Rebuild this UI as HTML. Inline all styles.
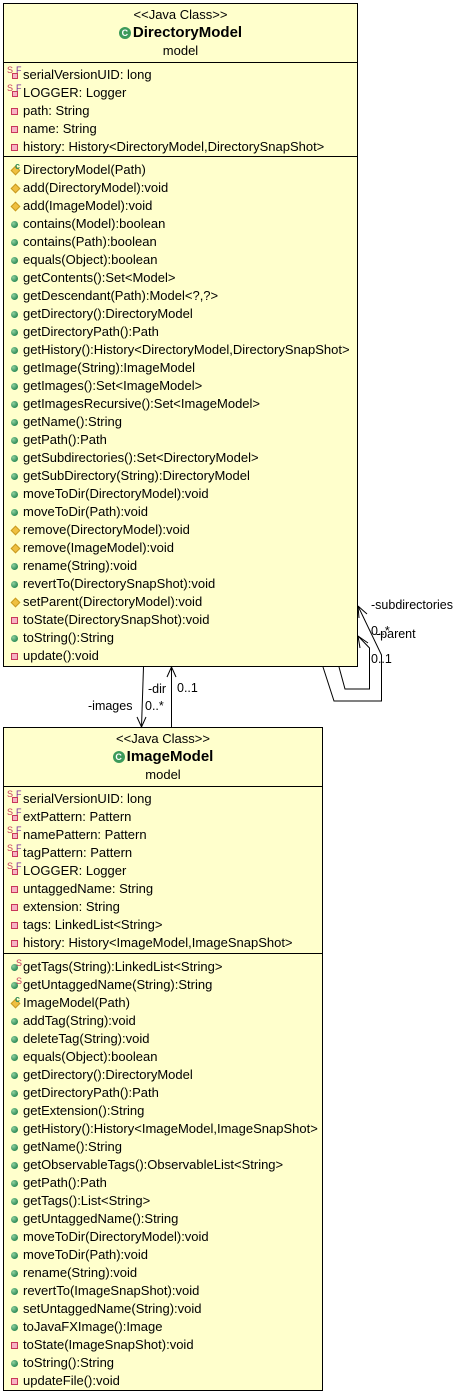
<!DOCTYPE html>
<html><head><meta charset="utf-8"><style>
body{margin:0;width:458px;height:1394px;background:#fff;position:relative;font-family:"Liberation Sans",Arial,sans-serif;font-size:13px;color:#000;overflow:hidden}
.box{position:absolute;background:#ffffcc;border:1px solid #000;box-sizing:border-box}
.sep{position:absolute;left:0;right:0;height:0;border-top:1px solid #000}
.c{position:absolute;left:0;right:0;text-align:center;line-height:18px}
.r{position:absolute;left:19px;line-height:18px;white-space:nowrap}
.r i{position:absolute;display:block}
.pub{left:-12px;top:6px;width:7px;height:7px;border-radius:50%;background:radial-gradient(circle at 35% 35%,#8fd19e,#2e8b57 70%)}
.priv{left:-12px;top:6px;width:5px;height:5px;border:1px solid #c8375a;background:#f7b3c4}
.prot{left:-11px;top:6px;width:5px;height:5px;transform:rotate(45deg);background:#f0c040;border:1px solid #c89a20}
.sq{left:-11px;top:7px;width:4px;height:4px;border:1px solid #c8375a;background:#f7b3c4}
.sup{position:absolute;font-style:normal;font-size:9px;line-height:9px}
.lbl{position:absolute;font-size:12.5px;line-height:14px;white-space:nowrap}
.t{font-weight:bold;font-size:15px}
.gc{display:inline-block;width:12px;height:12px;border-radius:50%;background:#3c9a5a;color:#fff;font-size:9px;line-height:12px;text-align:center;vertical-align:1px;margin-right:2px;font-weight:bold}
</style></head><body>

<div class="box" style="left:3px;top:3px;width:355px;height:664px">
<div class="c" style="top:2px">&lt;&lt;Java Class&gt;&gt;</div>
<div class="c t" style="top:20px"><span class="gc">C</span>DirectoryModel</div>
<div class="c" style="top:38px">model</div>
<div class="sep" style="top:58px"></div>
<div class="r" style="top:62px"><i class="sq"></i><i class="sup" style="left:-16px;top:0;color:#c8375a">S</i><i class="sup" style="left:-7px;top:0;color:#7a2a9a">F</i>serialVersionUID: long</div>
<div class="r" style="top:80px"><i class="sq"></i><i class="sup" style="left:-16px;top:0;color:#c8375a">S</i><i class="sup" style="left:-7px;top:0;color:#7a2a9a">F</i>LOGGER: Logger</div>
<div class="r" style="top:98px"><i class="priv"></i>path: String</div>
<div class="r" style="top:116px"><i class="priv"></i>name: String</div>
<div class="r" style="top:134px"><i class="priv"></i>history: History&lt;DirectoryModel,DirectorySnapShot&gt;</div>
<div class="sep" style="top:152px"></div>
<div class="r" style="top:157px"><i class="prot"></i><i class="sup" style="left:-8px;top:1px;color:#2e8b57;font-weight:bold">c</i>DirectoryModel(Path)</div>
<div class="r" style="top:175px"><i class="prot"></i>add(DirectoryModel):void</div>
<div class="r" style="top:193px"><i class="prot"></i>add(ImageModel):void</div>
<div class="r" style="top:211px"><i class="pub"></i>contains(Model):boolean</div>
<div class="r" style="top:229px"><i class="pub"></i>contains(Path):boolean</div>
<div class="r" style="top:247px"><i class="pub"></i>equals(Object):boolean</div>
<div class="r" style="top:265px"><i class="pub"></i>getContents():Set&lt;Model&gt;</div>
<div class="r" style="top:283px"><i class="pub"></i>getDescendant(Path):Model&lt;?,?&gt;</div>
<div class="r" style="top:301px"><i class="pub"></i>getDirectory():DirectoryModel</div>
<div class="r" style="top:319px"><i class="pub"></i>getDirectoryPath():Path</div>
<div class="r" style="top:337px"><i class="pub"></i>getHistory():History&lt;DirectoryModel,DirectorySnapShot&gt;</div>
<div class="r" style="top:355px"><i class="pub"></i>getImage(String):ImageModel</div>
<div class="r" style="top:373px"><i class="pub"></i>getImages():Set&lt;ImageModel&gt;</div>
<div class="r" style="top:391px"><i class="pub"></i>getImagesRecursive():Set&lt;ImageModel&gt;</div>
<div class="r" style="top:409px"><i class="pub"></i>getName():String</div>
<div class="r" style="top:427px"><i class="pub"></i>getPath():Path</div>
<div class="r" style="top:445px"><i class="pub"></i>getSubdirectories():Set&lt;DirectoryModel&gt;</div>
<div class="r" style="top:463px"><i class="pub"></i>getSubDirectory(String):DirectoryModel</div>
<div class="r" style="top:481px"><i class="pub"></i>moveToDir(DirectoryModel):void</div>
<div class="r" style="top:499px"><i class="pub"></i>moveToDir(Path):void</div>
<div class="r" style="top:517px"><i class="prot"></i>remove(DirectoryModel):void</div>
<div class="r" style="top:535px"><i class="prot"></i>remove(ImageModel):void</div>
<div class="r" style="top:553px"><i class="pub"></i>rename(String):void</div>
<div class="r" style="top:571px"><i class="pub"></i>revertTo(DirectorySnapShot):void</div>
<div class="r" style="top:589px"><i class="prot"></i>setParent(DirectoryModel):void</div>
<div class="r" style="top:607px"><i class="priv"></i>toState(DirectorySnapShot):void</div>
<div class="r" style="top:625px"><i class="pub"></i>toString():String</div>
<div class="r" style="top:643px"><i class="priv"></i>update():void</div>
</div>

<div class="box" style="left:3px;top:727px;width:320px;height:664px">
<div class="c" style="top:2px">&lt;&lt;Java Class&gt;&gt;</div>
<div class="c t" style="top:20px"><span class="gc">C</span>ImageModel</div>
<div class="c" style="top:38px">model</div>
<div class="sep" style="top:58px"></div>
<div class="r" style="top:62px"><i class="sq"></i><i class="sup" style="left:-16px;top:0;color:#c8375a">S</i><i class="sup" style="left:-7px;top:0;color:#7a2a9a">F</i>serialVersionUID: long</div>
<div class="r" style="top:80px"><i class="sq"></i><i class="sup" style="left:-16px;top:0;color:#c8375a">S</i><i class="sup" style="left:-7px;top:0;color:#7a2a9a">F</i>extPattern: Pattern</div>
<div class="r" style="top:98px"><i class="sq"></i><i class="sup" style="left:-16px;top:0;color:#c8375a">S</i><i class="sup" style="left:-7px;top:0;color:#7a2a9a">F</i>namePattern: Pattern</div>
<div class="r" style="top:116px"><i class="sq"></i><i class="sup" style="left:-16px;top:0;color:#c8375a">S</i><i class="sup" style="left:-7px;top:0;color:#7a2a9a">F</i>tagPattern: Pattern</div>
<div class="r" style="top:134px"><i class="sq"></i><i class="sup" style="left:-16px;top:0;color:#c8375a">S</i><i class="sup" style="left:-7px;top:0;color:#7a2a9a">F</i>LOGGER: Logger</div>
<div class="r" style="top:152px"><i class="priv"></i>untaggedName: String</div>
<div class="r" style="top:170px"><i class="priv"></i>extension: String</div>
<div class="r" style="top:188px"><i class="priv"></i>tags: LinkedList&lt;String&gt;</div>
<div class="r" style="top:206px"><i class="priv"></i>history: History&lt;ImageModel,ImageSnapShot&gt;</div>
<div class="sep" style="top:225px"></div>
<div class="r" style="top:230px"><i class="pub"></i><i class="sup" style="left:-7px;top:1px;color:#c8375a">S</i>getTags(String):LinkedList&lt;String&gt;</div>
<div class="r" style="top:248px"><i class="pub"></i><i class="sup" style="left:-7px;top:1px;color:#c8375a">S</i>getUntaggedName(String):String</div>
<div class="r" style="top:266px"><i class="prot"></i><i class="sup" style="left:-8px;top:1px;color:#2e8b57;font-weight:bold">c</i>ImageModel(Path)</div>
<div class="r" style="top:284px"><i class="pub"></i>addTag(String):void</div>
<div class="r" style="top:302px"><i class="pub"></i>deleteTag(String):void</div>
<div class="r" style="top:320px"><i class="pub"></i>equals(Object):boolean</div>
<div class="r" style="top:338px"><i class="pub"></i>getDirectory():DirectoryModel</div>
<div class="r" style="top:356px"><i class="pub"></i>getDirectoryPath():Path</div>
<div class="r" style="top:374px"><i class="pub"></i>getExtension():String</div>
<div class="r" style="top:392px"><i class="pub"></i>getHistory():History&lt;ImageModel,ImageSnapShot&gt;</div>
<div class="r" style="top:410px"><i class="pub"></i>getName():String</div>
<div class="r" style="top:428px"><i class="pub"></i>getObservableTags():ObservableList&lt;String&gt;</div>
<div class="r" style="top:446px"><i class="pub"></i>getPath():Path</div>
<div class="r" style="top:464px"><i class="pub"></i>getTags():List&lt;String&gt;</div>
<div class="r" style="top:482px"><i class="pub"></i>getUntaggedName():String</div>
<div class="r" style="top:500px"><i class="pub"></i>moveToDir(DirectoryModel):void</div>
<div class="r" style="top:518px"><i class="pub"></i>moveToDir(Path):void</div>
<div class="r" style="top:536px"><i class="pub"></i>rename(String):void</div>
<div class="r" style="top:554px"><i class="pub"></i>revertTo(ImageSnapShot):void</div>
<div class="r" style="top:572px"><i class="pub"></i>setUntaggedName(String):void</div>
<div class="r" style="top:590px"><i class="pub"></i>toJavaFXImage():Image</div>
<div class="r" style="top:608px"><i class="priv"></i>toState(ImageSnapShot):void</div>
<div class="r" style="top:626px"><i class="pub"></i>toString():String</div>
<div class="r" style="top:644px"><i class="priv"></i>updateFile():void</div>
</div>

<svg width="458" height="1394" style="position:absolute;left:0;top:0" fill="none" stroke="#000" stroke-width="1">
<path d="M143.5 667 L141.5 727"/>
<path d="M137 717 L141.5 727 L146 717"/>
<path d="M171.5 727 L171.5 667"/>
<path d="M167 677 L171.5 667 L176 677"/>
<path d="M323 667 L334 701 L381.5 701 L381.5 655 L358 606"/>
<path d="M358 606 L359 618 M358 606 L367 614"/>
<path d="M339 667 L345 689 L369.5 689 L369.5 648 L358 636"/>
<path d="M358 636 L360 648 M358 636 L368 643"/>
</svg>
<div class="lbl" style="left:371px;top:598px">-subdirectories</div>
<div class="lbl" style="left:371px;top:624px">0..*</div>
<div class="lbl" style="left:376px;top:627px">-parent</div>
<div class="lbl" style="left:371px;top:652px">0..1</div>
<div class="lbl" style="left:148px;top:682px">-dir</div>
<div class="lbl" style="left:177px;top:681px">0..1</div>
<div class="lbl" style="left:88px;top:699px">-images</div>
<div class="lbl" style="left:145px;top:699px">0..*</div>
</body></html>
